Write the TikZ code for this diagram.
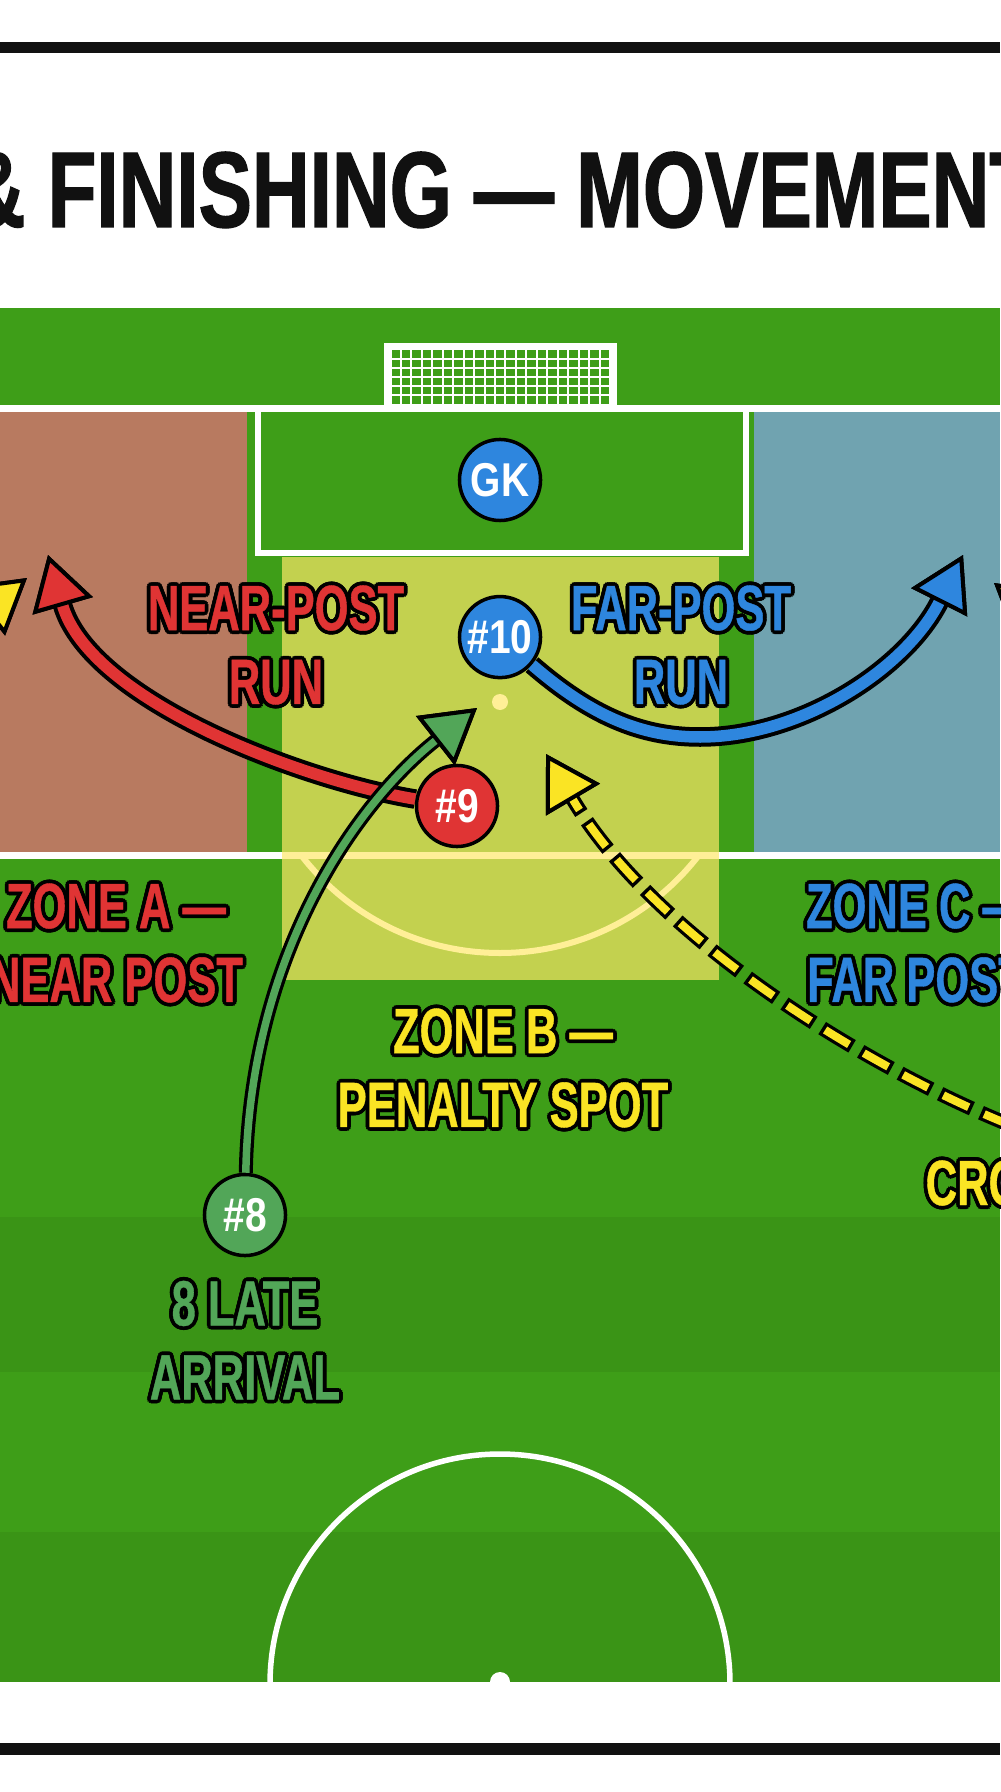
\documentclass[tikz,border=0pt]{standalone}
\usepackage{fontspec}
\setmainfont{Liberation Sans}
\newfontfamily\titlefont[FakeStretch=0.743, FakeBold=1.2]{Liberation Sans Bold}
\newfontfamily\labelfont[FakeStretch=0.68, FakeBold=0.6]{Liberation Sans Bold}
\newfontfamily\playerfont[FakeStretch=0.82]{Liberation Sans Bold}
\usetikzlibrary{arrows.meta, positioning}

\definecolor{barblack}{RGB}{17,17,17}
\definecolor{pitchgreen}{RGB}{62,158,24}
\definecolor{zonea}{RGB}{184,122,96}
\definecolor{zonec}{RGB}{112,163,176}
\definecolor{zoneb}{RGB}{255,233,105}
\definecolor{runred}{RGB}{224,52,52}
\definecolor{runblue}{RGB}{46,134,222}
\definecolor{rungreen}{RGB}{82,166,88}
\definecolor{crossyellow}{RGB}{250,228,36}

% text with a black rim
\newcommand\olt[2]{\leavevmode\rlap{\color{black}\foreach \a in {0,30,...,330}{\rlap{\kern\fpeval{round(0.38*cosd(\a),3)}mm\raisebox{\fpeval{round(0.38*sind(\a),3)}mm}{#2}}}}\textcolor{#1}{#2}}

\tikzset{
  player/.style={circle, draw=black, line width=0.35mm, minimum size=8.1mm, inner sep=0pt,
    text=white, font=\playerfont\fontsize{13.5pt}{15pt}\selectfont},
  runlabel/.style={align=center, inner sep=0pt, font=\labelfont\fontsize{18.2pt}{21pt}\selectfont},
  run/.style n args={3}{draw=#1, line width=#2, preaction={draw=black, line width=#3},
    -{Triangle[length=5.3mm, width=6.2mm, line width=0.4mm, color=black, fill=#1]}},
  crossrun/.style={draw=crossyellow, line width=0.8mm, dash pattern=on 2.8mm off 1.7mm,
    preaction={draw=black, line width=1.45mm, dash pattern=on 3.5mm off 1mm, dash phase=0.35mm},
    -{Triangle[length=5.3mm, width=6.2mm, line width=0.4mm, color=black, fill=crossyellow]}}
}

\begin{document}
\begin{tikzpicture} [x=0.01cm, y=-0.01cm, on grid, node distance=1.57cm]

\useasboundingbox (0,0) rectangle (1000,1792);
\fill [white] (0,0) rectangle (1000,1792);
\fill [barblack] (0,42) rectangle (1000,53);
\fill [barblack] (0,1743) rectangle (1000,1755);

\node (title) [anchor=base, inner sep=0pt, text=barblack,
  font=\titlefont\fontsize{30.6pt}{36pt}\selectfont] at (503,227) {\& FINISHING — MOVEMENT};

% pitch
\fill [pitchgreen] (0,308) rectangle (1000,1682);
\fill [black, opacity=0.06] (0,1217) rectangle (1000,1372);
\fill [black, opacity=0.06] (0,1532) rectangle (1000,1682);
\fill [zonea] (0,412) rectangle (247,855);
\fill [zonec] (754,412) rectangle (1000,855);

% goal and net
\foreach \gx in {0,...,21}
  \draw [white, line width=0.2mm] (390.5+10.45*\gx,349) -- (390.5+10.45*\gx,406);
\foreach \gy in {0,...,6}
  \draw [white, line width=0.2mm] (390,349.5+9.2*\gy) -- (611,349.5+9.2*\gy);
\draw [white, line width=0.7mm] (387.5,408) -- (387.5,346.5) -- (613.5,346.5) -- (613.5,408);

% markings
\draw [white, line width=0.7mm] (0,408.5) -- (1000,408.5);
\draw [white, line width=0.6mm] (258,412) -- (258,553) -- (746,553) -- (746,412);
\draw [white, line width=0.7mm] (0,855) -- (1000,855);
\fill [white] (500,702) circle (8);
\begin{scope}
  \clip (0,858) rectangle (1000,1000);
  \draw [white, line width=0.6mm] (500,702) circle (251);
\end{scope}
\begin{scope}
  \clip (0,1300) rectangle (1000,1682);
  \draw [white, line width=0.55mm] (500,1684) circle (230);
\end{scope}
\fill [white] (500,1682) circle (10);

\fill [zoneb, opacity=0.69] (282,557) rectangle (719,980);

% labels
\node (nearlbl) [runlabel] at (276,645) {\olt{runred}{NEAR-POST}\\\olt{runred}{RUN}};
\node (farlbl) [runlabel] at (681,645) {\olt{runblue}{FAR-POST}\\\olt{runblue}{RUN}};
\node (zonealbl) [runlabel] at (116,943) {\olt{runred}{ZONE A —}\\\olt{runred}{NEAR POST}};
\node (zoneclbl) [runlabel] at (916,943) {\olt{runblue}{ZONE C —}\\\olt{runblue}{FAR POST}};
\node (zoneblbl) [runlabel] at (503,1068) {\olt{crossyellow}{ZONE B —}\\\olt{crossyellow}{PENALTY SPOT}};
\node (crosslbl) [runlabel, anchor=west] at (925,1183) {\olt{crossyellow}{CRO}};

% players
\node (gk) [player, fill=runblue] at (500,480) {GK};
\node (p10) [player, fill=runblue, below = of gk] {\#10};
\node (p9) [player, fill=runred] at (457,806) {\#9};
\node (p8) [player, fill=rungreen] at (245,1215) {\#8};
\node (latelbl) [runlabel, below = 1.25cm of p8] {\olt{rungreen}{8 LATE}\\\olt{rungreen}{ARRIVAL}};

\coordinate (nearend) at (48,555);
\coordinate (farend) at (963,555);
\coordinate (lateend) at (477,708);
\coordinate (crossfrom) at (1010,1125);
\coordinate (crossend) at (546,754);
\coordinate (leftfrom) at (-90,671);
\coordinate (leftend) at (27,578);
\coordinate (rightfrom) at (1110,675);
\coordinate (rightend) at (994,583);

% runs
\draw [run={runred}{1.15mm}{1.95mm}] (p9) .. controls (300,780) and (90,700) .. (nearend);
\draw [run={runblue}{1.15mm}{1.95mm}] (p10) .. controls (590,715) and (640,737) .. (700,737)
  .. controls (800,737) and (905,670) .. (farend);
\draw [run={rungreen}{0.75mm}{1.4mm}] (p8) .. controls (250,950) and (360,800) .. (lateend);
\draw [crossrun] (crossfrom) .. controls (850,1060) and (650,930) .. (crossend);
\draw [crossrun] (leftfrom) -- (leftend);
\draw [crossrun] (rightfrom) -- (rightend);

\end{tikzpicture}
\end{document}
